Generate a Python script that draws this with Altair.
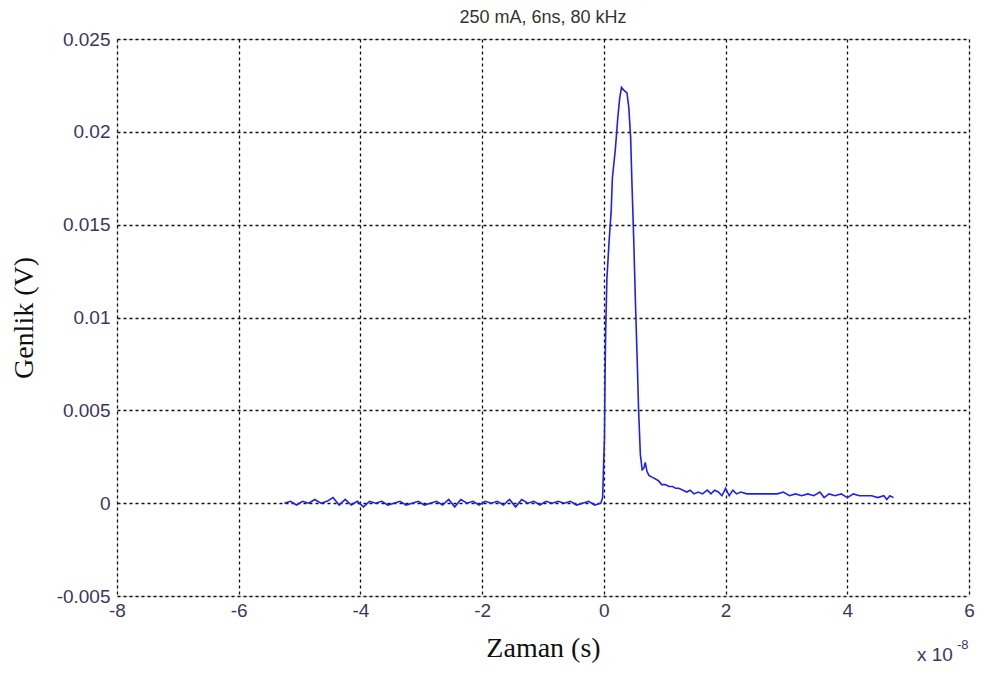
import altair as alt
import pandas as pd

# time in units of 1e-8 s
t_base = [-5.25, -5.15, -5.05, -4.95, -4.85, -4.75, -4.65, -4.55, -4.45, -4.35,
          -4.25, -4.15, -4.05, -3.95, -3.85, -3.75, -3.65, -3.55, -3.45, -3.35,
          -3.25, -3.15, -3.05, -2.95, -2.85, -2.75, -2.65, -2.55, -2.45, -2.35,
          -2.25, -2.15, -2.05, -1.95, -1.85, -1.75, -1.65, -1.55, -1.45, -1.35,
          -1.25, -1.15, -1.05, -0.95, -0.85, -0.75, -0.65, -0.55, -0.45, -0.35,
          -0.25, -0.15, -0.05]
v_base = [0.0000, 0.0001, -0.0001, 0.0001, 0.0000, 0.0002, 0.0000, 0.0001, 0.0003, -0.0001,
          0.0002, -0.0001, 0.0001, -0.0002, 0.0001, 0.0000, 0.0001, -0.0001, 0.0000, 0.0001,
          -0.0001, 0.0000, 0.0001, -0.0001, 0.0000, 0.0001, -0.0001, 0.0002, -0.0002, 0.0002,
          0.0000, 0.0001, -0.0001, 0.0001, 0.0000, 0.0001, -0.0001, 0.0002, -0.0002, 0.0002,
          0.0000, 0.0001, -0.0001, 0.0001, 0.0000, 0.0001, 0.0000, 0.0001, -0.0001, 0.0000,
          0.0001, -0.0001, 0.0000]

t_pulse = [-0.02, 0.00, 0.01, 0.02, 0.03, 0.05, 0.09, 0.12, 0.14, 0.19,
           0.23, 0.26, 0.29, 0.34, 0.38, 0.41, 0.44, 0.46, 0.49, 0.52,
           0.55, 0.57, 0.60, 0.63, 0.66, 0.68, 0.71, 0.74, 0.79, 0.85,
           0.90, 0.95, 1.01, 1.07, 1.13, 1.18, 1.23, 1.30, 1.36, 1.42,
           1.48, 1.55, 1.62, 1.70, 1.76, 1.82, 1.88, 1.94, 2.00, 2.06,
           2.12, 2.18, 2.25, 2.35, 2.45, 2.55, 2.65, 2.75, 2.85, 2.95,
           3.05, 3.15, 3.25, 3.35, 3.45, 3.55, 3.62, 3.70, 3.80, 3.90,
           4.00, 4.10, 4.20, 4.30, 4.40, 4.50, 4.60, 4.65, 4.70, 4.76]
v_pulse = [0.0003, 0.0025, 0.0035, 0.0070, 0.0093, 0.0121, 0.0143, 0.0157, 0.0175, 0.0191,
           0.0208, 0.0218, 0.0224, 0.0222, 0.0221, 0.0213, 0.0197, 0.0174, 0.0143, 0.0107,
           0.0075, 0.0051, 0.0026, 0.0018, 0.0019, 0.0022, 0.0017, 0.0015, 0.0014, 0.0013,
           0.0012, 0.0010, 0.0010, 0.0009, 0.0009, 0.0008, 0.0008, 0.0007, 0.0006, 0.0007,
           0.0005, 0.0006, 0.0005, 0.0007, 0.0005, 0.0007, 0.0006, 0.0004, 0.0008, 0.0004,
           0.0007, 0.0005, 0.0006, 0.0005, 0.0005, 0.0005, 0.0005, 0.0005, 0.0005, 0.0006,
           0.0004, 0.0005, 0.0004, 0.0005, 0.0004, 0.0006, 0.0003, 0.0005, 0.0004, 0.0005,
           0.0003, 0.0005, 0.0004, 0.0004, 0.0004, 0.0003, 0.0004, 0.0002, 0.0004, 0.0003]

x_ticks = [-8, -6, -4, -2, 0, 2, 4, 6]
y_ticks = [-0.005, 0, 0.005, 0.01, 0.015, 0.02, 0.025]

df = pd.DataFrame({"t": t_base + t_pulse, "v": v_base + v_pulse})

W, H = 852, 557
label_color = "#3b3660"

common_axis = dict(labelExpr="'' + datum.value", grid=True, gridColor="#111111",
                   gridDash=[3, 3], gridWidth=1.3, ticks=False, domain=False,
                   labelFontSize=19, labelColor=label_color, labelFont="Liberation Sans",
                   labelFlush=False, labelOverlap=False,
                   titleFont="Liberation Serif", titleFontSize=28, titleFontWeight="normal",
                   titleColor="#111111")

line = alt.Chart(df).mark_line(color="#2020ee", strokeWidth=1.6).encode(
    x=alt.X("t:Q", scale=alt.Scale(domain=[-8, 6], nice=False),
            axis=alt.Axis(values=x_ticks, title="Zaman (s)", labelPadding=5,
                          titlePadding=14, **common_axis)),
    y=alt.Y("v:Q", scale=alt.Scale(domain=[-0.005, 0.025], nice=False),
            axis=alt.Axis(values=y_ticks, title="Genlik (V)", labelPadding=7,
                          titlePadding=18, **common_axis)),
)

exp_text = alt.Chart(pd.DataFrame({"s": ["x 10"]})).mark_text(
    font="Liberation Sans", fontSize=19, color=label_color, align="left", baseline="middle"
).encode(x=alt.value(800), y=alt.value(616), text="s:N")

exp_sup = alt.Chart(pd.DataFrame({"s": ["-8"]})).mark_text(
    font="Liberation Sans", fontSize=13, color=label_color, align="left", baseline="middle"
).encode(x=alt.value(840), y=alt.value(606), text="s:N")

chart = alt.layer(line, exp_text, exp_sup).properties(
    width=W, height=H,
    title=alt.TitleParams("250 mA, 6ns, 80 kHz", font="Liberation Sans", fontSize=18,
                          fontWeight="normal", color="#333333", offset=3),
    autosize=alt.AutoSizeParams(type="none"),
    padding={"left": 109, "top": 31, "right": 6, "bottom": 69},
).configure_view(stroke="#444444", strokeWidth=1.5).configure(background="white")

chart.save("out.html", embed_options={"renderer": "svg", "actions": False})
